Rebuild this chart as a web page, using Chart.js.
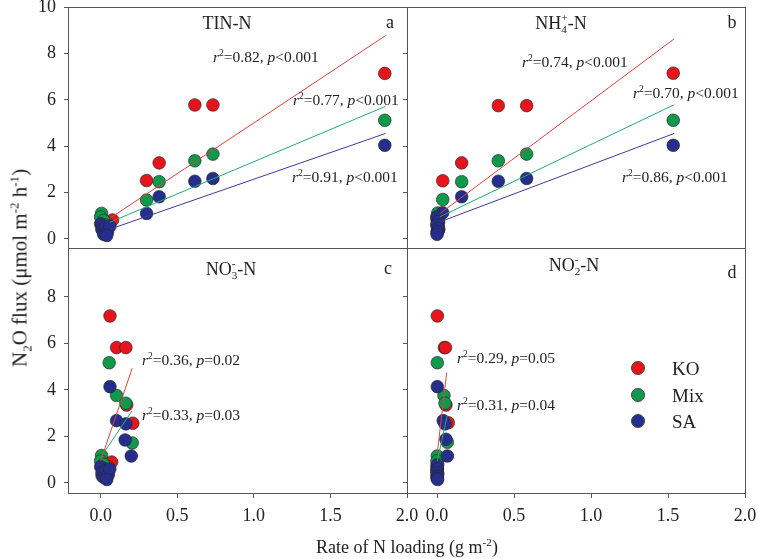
<!DOCTYPE html>
<html>
<head>
<meta charset="utf-8">
<script src="https://cdn.jsdelivr.net/npm/chart.js@4.4.0/dist/chart.umd.min.js"></script>
<style>
  body { margin: 0; background: #fff; }
  #wrap { position: relative; width: 758px; height: 559px; font-family: "Liberation Serif", "Times New Roman", serif; color: #222; }
  canvas { position: absolute; left: 0; top: 0; }
  .t { position: absolute; white-space: nowrap; transform: translate(-50%, -50%); font-size: 18px; line-height: 1; }
  .ann { position: absolute; white-space: nowrap; transform: translateY(-50%); font-size: 15.5px; line-height: 1; }
  .ann i { font-style: italic; }
  sup, sub { font-size: 0.62em; line-height: 0; }
  .ss { display: inline-block; vertical-align: -0.38em; font-size: 0.62em; line-height: 1.05; text-align: left; }
  .ss span { display: block; }
  .ytitle { position: absolute; white-space: nowrap; left: 20px; top: 268px; font-size: 21px; transform: translate(-50%, -50%) rotate(-90deg); }
  .dot { position: absolute; width: 12px; height: 12px; border-radius: 50%; border: 1px solid #444; transform: translate(-50%, -50%); }
</style>
</head>
<body>
<div id="wrap">
  <canvas id="cA" width="758" height="559"></canvas>
  <canvas id="cB" width="758" height="559"></canvas>
  <canvas id="cC" width="758" height="559"></canvas>
  <canvas id="cD" width="758" height="559"></canvas>

  <div class="t" style="left:227px;top:23px">TIN-N</div>
  <div class="t" style="left:561px;top:24px">NH<span class="ss"><span>+</span><span>4</span></span>-N</div>
  <div class="t" style="left:231px;top:270px">NO<span class="ss"><span>-</span><span>3</span></span>-N</div>
  <div class="t" style="left:574px;top:266px">NO<span class="ss"><span>-</span><span>2</span></span>-N</div>
  <div class="t" style="left:390px;top:22px">a</div>
  <div class="t" style="left:732px;top:22px">b</div>
  <div class="t" style="left:388px;top:268px">c</div>
  <div class="t" style="left:732px;top:272px">d</div>

  <div class="ann" style="left:213px;top:57px"><i>r</i><sup>2</sup>=0.82, <i>p</i>&lt;0.001</div>
  <div class="ann" style="left:293px;top:100px"><i>r</i><sup>2</sup>=0.77, <i>p</i>&lt;0.001</div>
  <div class="ann" style="left:292px;top:177px"><i>r</i><sup>2</sup>=0.91, <i>p</i>&lt;0.001</div>
  <div class="ann" style="left:522px;top:62px"><i>r</i><sup>2</sup>=0.74, <i>p</i>&lt;0.001</div>
  <div class="ann" style="left:633px;top:93px"><i>r</i><sup>2</sup>=0.70, <i>p</i>&lt;0.001</div>
  <div class="ann" style="left:622px;top:177px"><i>r</i><sup>2</sup>=0.86, <i>p</i>&lt;0.001</div>
  <div class="ann" style="left:142px;top:360px"><i>r</i><sup>2</sup>=0.36, <i>p</i>=0.02</div>
  <div class="ann" style="left:142px;top:415px"><i>r</i><sup>2</sup>=0.33, <i>p</i>=0.03</div>
  <div class="ann" style="left:457px;top:358px"><i>r</i><sup>2</sup>=0.29, <i>p</i>=0.05</div>
  <div class="ann" style="left:457px;top:405px"><i>r</i><sup>2</sup>=0.31, <i>p</i>=0.04</div>

  <div class="ytitle">N<sub>2</sub>O flux (μmol m<sup>-2</sup> h<sup>-1</sup>)</div>
  <div class="t" style="left:407px;top:547px">Rate of N loading (g m<sup>-2</sup>)</div>
  <div id="legend"></div>
</div>

<script>
// series names and colours
const seriesNames = ['KO', 'Mix', 'SA'];
const fillColors = ['#e8141c', '#10994a', '#252e8c'];
const lineColors = ['#e04040', '#22aa77', '#3a3a9a'];

// x and y ticks
const xTicks = [0.0, 0.5, 1.0, 1.5, 2.0];
const yTicks = [0, 2, 4, 6, 8, 10];

// Panel a: TIN-N  [loading, flux]
const tinKO  = [[1.855,7.14],[0.733,5.78],[0.615,5.78],[0.382,3.28],[0.30,2.52],[0.078,0.82],[0.05,0.55],[0.03,0.4],[0.02,0.3],[0.04,0.7],[0.01,0.45]];
const tinMix = [[1.855,5.12],[0.733,3.66],[0.615,3.37],[0.382,2.47],[0.30,1.68],[0.006,1.1],[0.0,0.95],[0.02,0.8],[0.03,0.6],[0.05,0.5],[0.01,0.4]];
const tinSA  = [[1.855,4.04],[0.733,2.61],[0.615,2.49],[0.382,1.82],[0.30,1.1],[0.0,0.65],[0.01,0.4],[0.02,0.2],[0.03,0.5],[0.045,0.3],[0.06,0.55],[0.04,0.15]];
const tinFitKO  = [[0.06,0.89],[1.86,8.77]];
const tinFitMix = [[0.06,0.72],[1.86,5.72]];
const tinFitSA  = [[0.06,0.42],[1.86,4.55]];

// Panel b: NH4+-N
const nh4KO  = [[1.534,7.15],[0.398,5.75],[0.582,5.75],[0.16,3.28],[0.037,2.51],[0.0,0.82],[0.005,0.55],[0.01,0.4],[0.0,0.3],[0.01,0.7],[0.005,0.45]];
const nh4Mix = [[1.534,5.12],[0.582,3.66],[0.398,3.37],[0.16,2.47],[0.037,1.7],[0.005,1.12],[0.0,0.95],[0.01,0.8],[0.0,0.6],[0.005,0.5],[0.01,0.4]];
const nh4SA  = [[1.534,4.04],[0.582,2.61],[0.398,2.49],[0.16,1.82],[0.037,1.13],[0.0,0.95],[0.005,0.75],[0.0,0.6],[0.01,0.45],[0.005,0.3],[0.0,0.2]];
const nh4FitKO  = [[0.02,1.1],[1.54,8.63]];
const nh4FitMix = [[0.02,0.96],[1.54,5.79]];
const nh4FitSA  = [[0.02,0.74],[1.54,4.55]];

// Panel c: NO3--N
const no3KO  = [[0.061,7.18],[0.104,5.82],[0.165,5.82],[0.17,3.35],[0.21,2.57],[0.072,0.9],[0.04,0.55],[0.02,0.4],[0.01,0.3],[0.05,0.7],[0.03,0.45]];
const no3Mix = [[0.056,5.17],[0.104,3.76],[0.165,3.43],[0.206,1.72],[0.006,1.18],[0.0,0.95],[0.02,0.8],[0.03,0.6],[0.05,0.5],[0.01,0.4]];
const no3SA  = [[0.061,4.14],[0.104,2.68],[0.165,2.54],[0.16,1.85],[0.2,1.16],[0.0,0.7],[0.01,0.45],[0.02,0.25],[0.035,0.55],[0.05,0.35],[0.06,0.6],[0.04,0.15]];
const no3FitKO  = [[0.0,0.95],[0.206,4.93]];
const no3FitMix = [[0.0,1.1],[0.206,3.11]];

// Panel d: NO2--N
const no2KO  = [[0.002,7.18],[0.048,5.82],[0.055,5.82],[0.058,3.35],[0.073,2.59],[0.002,0.85],[0.0,0.55],[0.005,0.4],[0.0,0.3],[0.002,0.7]];
const no2Mix = [[0.002,5.17],[0.045,3.76],[0.052,3.43],[0.067,1.75],[0.002,1.16],[0.0,0.95],[0.004,0.8],[0.0,0.6],[0.002,0.45]];
const no2SA  = [[0.002,4.14],[0.04,2.68],[0.052,2.54],[0.058,1.88],[0.067,1.16],[0.0,0.75],[0.003,0.6],[0.0,0.45],[0.002,0.3],[0.0,0.2],[0.004,0.15]];
const no2FitKO  = [[0.002,1.3],[0.063,4.75]];
const no2FitMix = [[0.002,0.95],[0.066,2.9]];

const W = 758, H = 559;
const FONT = '"Liberation Serif", "Times New Roman", serif';
const AXIS = '#555';

const frame = {
  id: 'frame',
  afterDraw(chart) {
    const a = chart.chartArea, c = chart.ctx;
    c.save();
    c.strokeStyle = AXIS;
    c.lineWidth = 1;
    c.strokeRect(Math.round(a.left) + 0.5, Math.round(a.top) + 0.5,
                 Math.round(a.right - a.left), Math.round(a.bottom - a.top));
    c.restore();
  }
};

const pts = arr => arr.map(([x, y]) => ({ x, y }));

function scatterSet(i, arr) {
  return {
    label: seriesNames[i], data: pts(arr), showLine: false,
    backgroundColor: fillColors[i], borderColor: 'rgba(40,40,40,0.85)', borderWidth: 0.8,
    pointRadius: 6.3, order: 3 - i
  };
}
function fitSet(i, arr) {
  return {
    label: seriesNames[i] + ' fit', data: pts(arr), showLine: true,
    borderColor: lineColors[i], borderWidth: 1, pointRadius: 0, order: 0
  };
}

function panel(id, box, cfg, datasets) {
  const yW = cfg.yLabels ? box.left : 10;
  const xH = cfg.xAxis ? 44 : 0;
  new Chart(document.getElementById(id), {
    type: 'scatter',
    data: { datasets },
    options: {
      responsive: false, animation: false, events: [],
      layout: { padding: { left: box.left - yW, right: W - box.right, top: box.top, bottom: H - box.bottom - xH } },
      plugins: { legend: { display: false }, tooltip: { enabled: false } },
      scales: {
        x: {
          type: 'linear', display: cfg.xAxis, min: cfg.xMin, max: 2,
          afterFit: s => { s.height = xH; s.paddingLeft = 0; s.paddingRight = 0; },
          afterBuildTicks: s => { s.ticks = xTicks.map(v => ({ value: v })); },
          ticks: { callback: v => v.toFixed(1), font: { family: FONT, size: 18 }, color: '#222', padding: 7, maxRotation: 0, autoSkip: false },
          grid: { drawOnChartArea: false, tickLength: 5, color: AXIS },
          border: { color: AXIS }
        },
        y: {
          type: 'linear', min: cfg.yMin, max: cfg.yMax,
          afterFit: s => { s.width = yW; s.paddingTop = 0; s.paddingBottom = 0; },
          afterBuildTicks: s => { s.ticks = yTicks.filter(v => v <= cfg.yTop).map(v => ({ value: v })); },
          ticks: { display: cfg.yLabels, font: { family: FONT, size: 18 }, color: '#222', padding: 8 },
          grid: { drawOnChartArea: false, tickLength: 4, color: AXIS },
          border: { color: AXIS }
        }
      }
    },
    plugins: [frame]
  });
}

panel('cA', { left: 68, top: 7, right: 407, bottom: 248 },
  { yLabels: true, xAxis: false, xMin: -0.213, yMin: -0.39, yMax: 10, yTop: 10 },
  [scatterSet(0, tinKO), scatterSet(1, tinMix), scatterSet(2, tinSA),
   fitSet(0, tinFitKO), fitSet(1, tinFitMix), fitSet(2, tinFitSA)]);

panel('cB', { left: 407, top: 7, right: 745, bottom: 248 },
  { yLabels: false, xAxis: false, xMin: -0.195, yMin: -0.39, yMax: 10, yTop: 10 },
  [scatterSet(0, nh4KO), scatterSet(1, nh4Mix), scatterSet(2, nh4SA),
   fitSet(0, nh4FitKO), fitSet(1, nh4FitMix), fitSet(2, nh4FitSA)]);

panel('cC', { left: 68, top: 248, right: 407, bottom: 493 },
  { yLabels: true, xAxis: true, xMin: -0.213, yMin: -0.43, yMax: 10.1, yTop: 8 },
  [scatterSet(0, no3KO), scatterSet(1, no3Mix), scatterSet(2, no3SA),
   fitSet(0, no3FitKO), fitSet(1, no3FitMix)]);

panel('cD', { left: 407, top: 248, right: 745, bottom: 493 },
  { yLabels: false, xAxis: true, xMin: -0.195, yMin: -0.43, yMax: 10.1, yTop: 8 },
  [scatterSet(0, no2KO), scatterSet(1, no2Mix), scatterSet(2, no2SA),
   fitSet(0, no2FitKO), fitSet(1, no2FitMix)]);

// legend in panel d
const legend = document.getElementById('legend');
seriesNames.forEach((name, i) => {
  const y = 368 + i * 26.5;
  legend.insertAdjacentHTML('beforeend',
    `<div class="dot" style="left:638px;top:${y}px;background:${fillColors[i]}"></div>` +
    `<div class="t" style="left:672px;top:${y}px;transform:translate(0,-50%);font-size:19px">${name}</div>`);
});
</script>
</body>
</html>
